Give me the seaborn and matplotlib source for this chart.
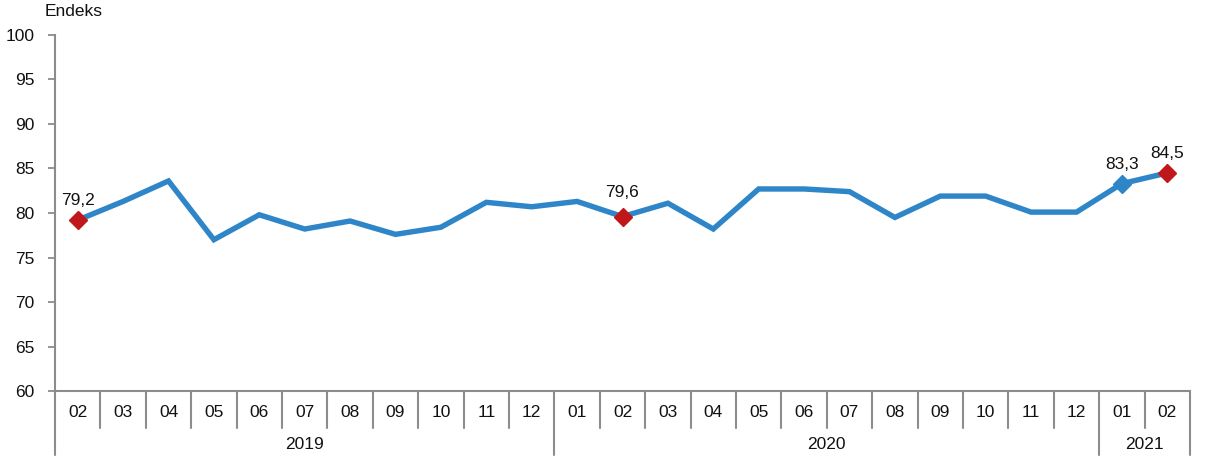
import numpy as np
import pandas as pd
import matplotlib
matplotlib.use("Agg")
import matplotlib.pyplot as plt
import matplotlib.transforms as mtransforms
import seaborn as sns

# ---- data ----
months = ["02", "03", "04", "05", "06", "07", "08", "09", "10", "11", "12",
          "01", "02", "03", "04", "05", "06", "07", "08", "09", "10", "11", "12",
          "01", "02"]
years = ["2019"] * 11 + ["2020"] * 12 + ["2021"] * 2
values = [79.2, 81.3, 83.6, 77.0, 79.8, 78.2, 79.1, 77.6, 78.4, 81.2, 80.7,
          81.3, 79.6, 81.1, 78.2, 82.7, 82.7, 82.4, 79.5, 81.9, 81.9, 80.1, 80.1,
          83.3, 84.5]
red_idx = [0, 12, 24]
blue_idx = [23]
label_idx = [0, 12, 23, 24]
y_ticks = [60, 65, 70, 75, 80, 85, 90, 95, 100]
y_label = "Endeks"

BLUE = "#2E86C8"
RED = "#C0171A"
GREY = "#8C8C8C"
FS = 12.5

sns.set_style("white")
plt.rcParams["font.family"] = ["Liberation Sans", "DejaVu Sans"]

df = pd.DataFrame({"pos": np.arange(len(values)), "value": values,
                   "month": months, "year": years})

fig = plt.figure(figsize=(12.06, 4.61), dpi=100)
ax = fig.add_axes([55 / 1206, 1 - 391 / 461, (1190 - 55) / 1206, (391 - 35) / 461])

sns.lineplot(data=df, x="pos", y="value", ax=ax, color=BLUE, linewidth=3.9,
             solid_joinstyle="miter")
sub_r = df.iloc[red_idx]
sub_b = df.iloc[blue_idx]
ax.plot(sub_b["pos"], sub_b["value"], linestyle="none", marker="D",
        markersize=9, color=BLUE, zorder=4)
ax.plot(sub_r["pos"], sub_r["value"], linestyle="none", marker="D",
        markersize=9, color=RED, zorder=4)

for i in label_idx:
    off = 17 if i == 12 else 14
    ax.annotate(f"{values[i]:.1f}".replace(".", ","), (i, values[i]),
                xytext=(0, off), textcoords="offset points",
                ha="center", va="center", fontsize=FS, color="#111111")

ax.set_xlim(-0.5, len(values) - 0.5)
ax.set_ylim(60, 100)
ax.set_yticks(y_ticks)
ax.set_yticklabels([str(t) for t in y_ticks], fontsize=FS, color="#111111")
ax.set_xticks([])
ax.set_xlabel("")
ax.set_ylabel("")
ax.tick_params(axis="y", left=True, length=5, width=1.3, color=GREY, pad=10)

for s in ["top", "right"]:
    ax.spines[s].set_visible(False)
for s in ["left", "bottom"]:
    ax.spines[s].set_color(GREY)
    ax.spines[s].set_linewidth(1.5)
ax.spines["left"].set_bounds(60, 100)

trans = mtransforms.blended_transform_factory(ax.transData, ax.transAxes)
month_y = -0.059
year_y = -0.150
month_div = -0.104
year_div = -0.180

ax.plot([-0.5, -0.5], [0, year_div], transform=trans, color=GREY, lw=1.5,
        clip_on=False)
for i in range(len(values)):
    ax.text(i, month_y, months[i], transform=trans, ha="center", va="center",
            fontsize=FS, color="#111111")
    if i > 0:
        bottom = year_div if years[i] != years[i - 1] else month_div
        ax.plot([i - 0.5, i - 0.5], [0, bottom], transform=trans, color=GREY,
                lw=1.5, clip_on=False)
ax.plot([len(values) - 0.5] * 2, [0, year_div], transform=trans, color=GREY,
        lw=1.5, clip_on=False)

uniq = []
for y in years:
    if y not in uniq:
        uniq.append(y)
for y in uniq:
    idx = [i for i, v in enumerate(years) if v == y]
    ax.text((idx[0] + idx[-1]) / 2, year_y, y, transform=trans, ha="center",
            va="center", fontsize=FS, color="#111111")

fig.text(45 / 1206, 1 - 12 / 461, y_label, ha="left", va="center",
         fontsize=FS, color="#111111")

fig.savefig("out.png", dpi=100)
